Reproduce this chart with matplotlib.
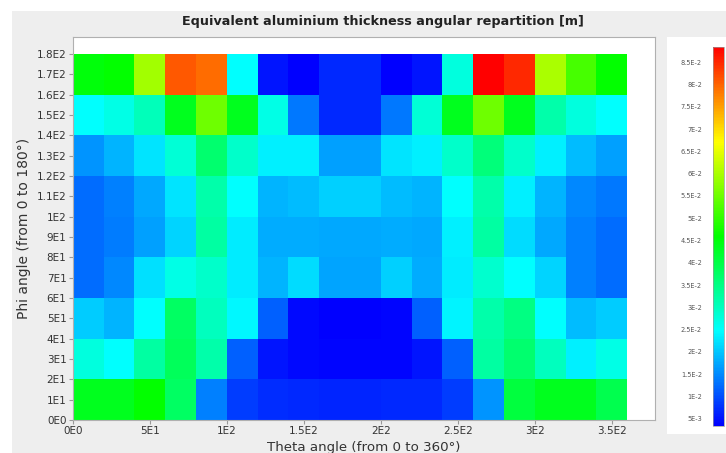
import numpy as np
import matplotlib
matplotlib.use("Agg")
import matplotlib.pyplot as plt
from matplotlib.colors import LinearSegmentedColormap
from matplotlib.patches import Rectangle
from matplotlib.ticker import FuncFormatter, MultipleLocator

# Bin edges (degrees)
theta_edges = np.arange(0, 361, 20)
phi_edges = np.arange(0, 181, 20)

# Equivalent aluminium thickness [m], one list per phi bin (lower edge), 18 theta bins each
phi_0 = [0.0434, 0.0434, 0.0459, 0.0376, 0.0142, 0.0084, 0.0071, 0.0068, 0.0064,
         0.0064, 0.0068, 0.0068, 0.0084, 0.0159, 0.0409, 0.0434, 0.0434, 0.0393]
phi_20 = [0.0275, 0.0247, 0.0326, 0.0384, 0.0317, 0.0117, 0.0051, 0.0043, 0.0038,
          0.0038, 0.0038, 0.0051, 0.0117, 0.0326, 0.0367, 0.0301, 0.0234, 0.0268]
phi_40 = [0.0205, 0.0184, 0.0247, 0.0376, 0.0301, 0.0242, 0.0117, 0.0043, 0.0034,
          0.0034, 0.0038, 0.0117, 0.0238, 0.0317, 0.0351, 0.0247, 0.0192, 0.0205]
phi_60 = [0.0126, 0.0150, 0.0222, 0.0268, 0.0292, 0.0230, 0.0184, 0.0218, 0.0172,
          0.0172, 0.0209, 0.0180, 0.0230, 0.0288, 0.0247, 0.0213, 0.0142, 0.0126]
phi_80 = [0.0126, 0.0139, 0.0167, 0.0213, 0.0326, 0.0230, 0.0180, 0.0180, 0.0176,
          0.0176, 0.0180, 0.0176, 0.0234, 0.0326, 0.0218, 0.0176, 0.0142, 0.0126]
phi_100 = [0.0126, 0.0142, 0.0176, 0.0225, 0.0317, 0.0247, 0.0184, 0.0192, 0.0209,
           0.0209, 0.0192, 0.0184, 0.0247, 0.0317, 0.0234, 0.0184, 0.0150, 0.0134]
phi_120 = [0.0159, 0.0184, 0.0225, 0.0281, 0.0367, 0.0292, 0.0234, 0.0234, 0.0167,
           0.0167, 0.0225, 0.0234, 0.0292, 0.0359, 0.0292, 0.0234, 0.0192, 0.0167]
phi_140 = [0.0247, 0.0268, 0.0306, 0.0434, 0.0551, 0.0434, 0.0268, 0.0134, 0.0068,
           0.0068, 0.0134, 0.0281, 0.0434, 0.0551, 0.0434, 0.0317, 0.0275, 0.0247]
phi_160 = [0.0451, 0.0459, 0.0592, 0.0809, 0.0792, 0.0247, 0.0051, 0.0034, 0.0068,
           0.0068, 0.0034, 0.0051, 0.0275, 0.0884, 0.0850, 0.0601, 0.0518, 0.0459]

thickness = np.array([phi_0, phi_20, phi_40, phi_60, phi_80,
                      phi_100, phi_120, phi_140, phi_160])
vmin, vmax = 0.0034, 0.0884
cbar_ticks = [0.005, 0.01, 0.015, 0.02, 0.025, 0.03, 0.035, 0.04, 0.045,
              0.05, 0.055, 0.06, 0.065, 0.07, 0.075, 0.08, 0.085]

cmap = LinearSegmentedColormap.from_list(
    "rainbow5", ["#0000ff", "#00ffff", "#00ff00", "#ffff00", "#ff0000"])


def sci_fmt(v, pos=None):
    if abs(v) < 1e-12:
        return "0E0"
    e = int(np.floor(np.log10(abs(v)) + 1e-9))
    m = round(v / 10**e, 6)
    return "%gE%d" % (m, e)


W, H = 726.0, 453.0
fig = plt.figure(figsize=(7.26, 4.53), dpi=100, facecolor="white")
# grey chart panel with a thin white margin on top and left
fig.patches.append(Rectangle((12 / W, -0.01), 1, 1.01 - 11 / H,
                             transform=fig.transFigure,
                             facecolor="#eeeeee", edgecolor="none", zorder=-10))

ax = fig.add_axes([72.7 / W, 1 - 420 / H, (655 - 72.7) / W, (420 - 37) / H])
ax.set_facecolor("white")
mesh = ax.pcolormesh(theta_edges, phi_edges, thickness, cmap=cmap,
                     vmin=vmin, vmax=vmax, shading="flat")
ax.set_xlim(0, 378)
ax.set_ylim(0, 188.4)
ax.xaxis.set_major_locator(MultipleLocator(50))
ax.yaxis.set_major_locator(MultipleLocator(10))
ax.xaxis.set_major_formatter(FuncFormatter(sci_fmt))
ax.yaxis.set_major_formatter(FuncFormatter(sci_fmt))
ax.tick_params(labelsize=7.5, colors="#999999", labelcolor="#333333",
               length=3, width=0.8, pad=1.5)
for s in ax.spines.values():
    s.set_color("#b0b0b0")
    s.set_linewidth(0.8)

fig.text(383 / W, 1 - 22 / H,
         "Equivalent aluminium thickness angular repartition [m]",
         fontsize=9.2, fontweight="bold", color="#222222",
         ha="center", va="center")
ax.set_xlabel("Theta angle (from 0 to 360°)", fontsize=9.6, color="#333333",
              labelpad=3.5)
ax.set_ylabel("Phi angle (from 0 to 180°)", fontsize=10, color="#333333",
              labelpad=4)

# colour scale panel
panel = fig.add_axes([667 / W, 1 - 434 / H, (W - 667) / W, (434 - 37) / H])
panel.set_facecolor("white")
panel.set_xticks([])
panel.set_yticks([])
for s in panel.spines.values():
    s.set_visible(False)

cax = fig.add_axes([713 / W, 1 - 426 / H, 11 / W, (426 - 47) / H])
cb = fig.colorbar(mesh, cax=cax, ticks=cbar_ticks)
cb.outline.set_edgecolor("#999999")
cb.outline.set_linewidth(0.5)
cax.yaxis.set_ticks_position("left")
cax.yaxis.set_major_formatter(FuncFormatter(sci_fmt))
cax.tick_params(length=0, labelsize=4.7, labelcolor="#555555", pad=8)

fig.savefig("out.png", dpi=100, facecolor=fig.get_facecolor())
